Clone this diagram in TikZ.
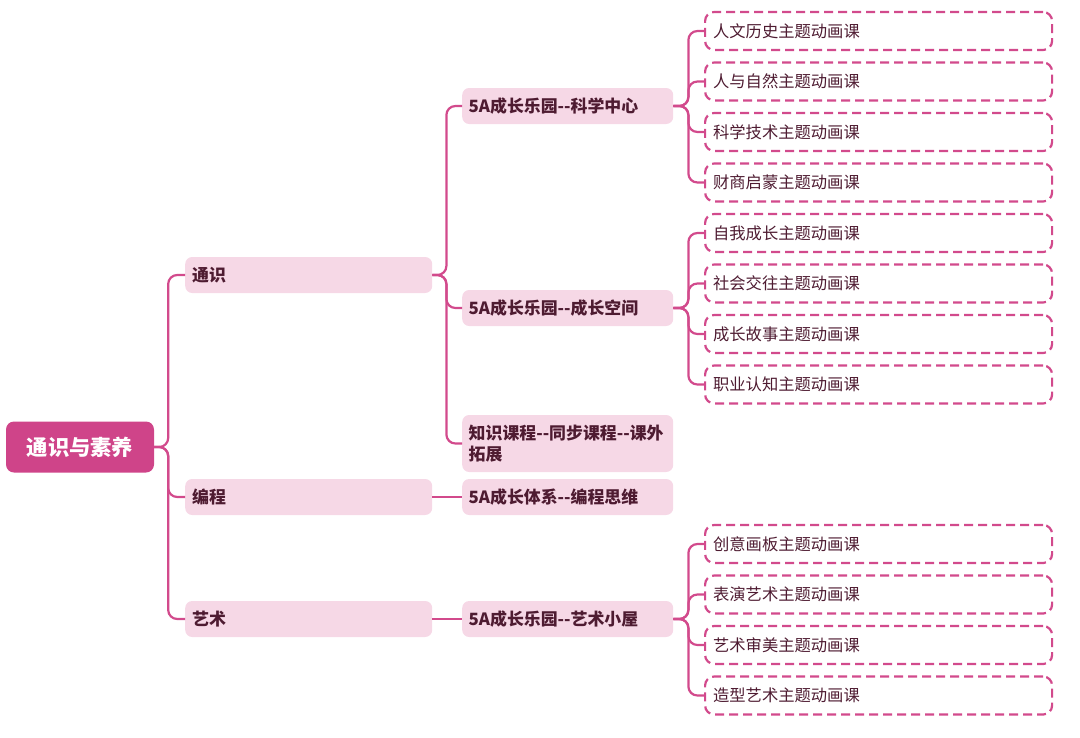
\documentclass[tikz,border=0pt]{standalone}
\usepackage{fontspec}
\setmainfont{Noto Sans CJK SC}
\definecolor{rootc}{HTML}{CF4489}
\definecolor{boxc}{HTML}{F6D8E6}
\definecolor{linkc}{HTML}{D24A8C}
\definecolor{txtc}{HTML}{4E1B31}
\begin{document}
\begin{tikzpicture}[x=1pt,y=-1pt,
	link/.style={draw=linkc,line width=2.2pt,rounded corners=9pt},
	rootbox/.style={fill=rootc,text=white,rounded corners=8pt,minimum width=148pt,minimum height=51pt,inner sep=0pt,font=\fontsize{21.3}{25}\selectfont\bfseries},
	lvone/.style={fill=boxc,text=txtc,rounded corners=7pt,anchor=west,minimum height=36pt,text width=233pt,inner xsep=7pt,align=left,font=\fontsize{16.9}{20}\selectfont\bfseries},
	lvtwo/.style={lvone,text width=198pt,inner xsep=6.5pt},
	leaf/.style={draw=linkc,dash pattern=on 9pt off 5pt,line width=2.2pt,text=txtc,rounded corners=9pt,anchor=west,minimum height=38pt,text width=331pt,inner xsep=8pt,align=left,font=\fontsize{16.3}{19}\selectfont}]
	\useasboundingbox (0,0) rectangle (1080,737);
	\node[rootbox] (root) at (80,447) {通识与素养};
	\node[lvone] (ts) at (185,275) {通识};
	\node[lvone] (bc) at (185,497) {编程};
	\node[lvone] (ys) at (185,619) {艺术};
	\node[lvtwo] (kx) at (462,106) {5A成长乐园-{}-科学中心};
	\node[lvtwo] (cz) at (462,308) {5A成长乐园-{}-成长空间};
	\node[lvtwo,minimum height=57pt,font=\fontsize{16.9}{21}\selectfont\bfseries] (zs) at (462,443.5) {知识课程-{}-同步课程-{}-课外\\拓展};
	\node[lvtwo] (bs) at (462,497) {5A成长体系-{}-编程思维};
	\node[lvtwo] (yx) at (462,619) {5A成长乐园-{}-艺术小屋};
	\node[leaf] (a1) at (704,31) {人文历史主题动画课};
	\node[leaf] (a2) at (704,81.5) {人与自然主题动画课};
	\node[leaf] (a3) at (704,132) {科学技术主题动画课};
	\node[leaf] (a4) at (704,182.5) {财商启蒙主题动画课};
	\node[leaf] (b1) at (704,233) {自我成长主题动画课};
	\node[leaf] (b2) at (704,283.5) {社会交往主题动画课};
	\node[leaf] (b3) at (704,334) {成长故事主题动画课};
	\node[leaf] (b4) at (704,384.5) {职业认知主题动画课};
	\node[leaf] (c1) at (704,544) {创意画板主题动画课};
	\node[leaf] (c2) at (704,594.5) {表演艺术主题动画课};
	\node[leaf] (c3) at (704,645) {艺术审美主题动画课};
	\node[leaf] (c4) at (704,695.5) {造型艺术主题动画课};
	\draw[link] (root.east) -- ++(14,0) |- (ts.west);
	\draw[link] (root.east) -- ++(14,0) |- (bc.west);
	\draw[link] (root.east) -- ++(14,0) |- (ys.west);
	\draw[link] (ts.east) -- ++(14,0) |- (kx.west);
	\draw[link] (ts.east) -- ++(14,0) |- (cz.west);
	\draw[link] (ts.east) -- ++(14,0) |- (zs.west);
	\draw[link] (bc.east) -- (bs.west);
	\draw[link] (ys.east) -- (yx.west);
	\draw[link] (kx.east) -- ++(15,0) |- (a1.west);
	\draw[link] (kx.east) -- ++(15,0) |- (a2.west);
	\draw[link] (kx.east) -- ++(15,0) |- (a3.west);
	\draw[link] (kx.east) -- ++(15,0) |- (a4.west);
	\draw[link] (cz.east) -- ++(15,0) |- (b1.west);
	\draw[link] (cz.east) -- ++(15,0) |- (b2.west);
	\draw[link] (cz.east) -- ++(15,0) |- (b3.west);
	\draw[link] (cz.east) -- ++(15,0) |- (b4.west);
	\draw[link] (yx.east) -- ++(15,0) |- (c1.west);
	\draw[link] (yx.east) -- ++(15,0) |- (c2.west);
	\draw[link] (yx.east) -- ++(15,0) |- (c3.west);
	\draw[link] (yx.east) -- ++(15,0) |- (c4.west);
\end{tikzpicture}
\end{document}
